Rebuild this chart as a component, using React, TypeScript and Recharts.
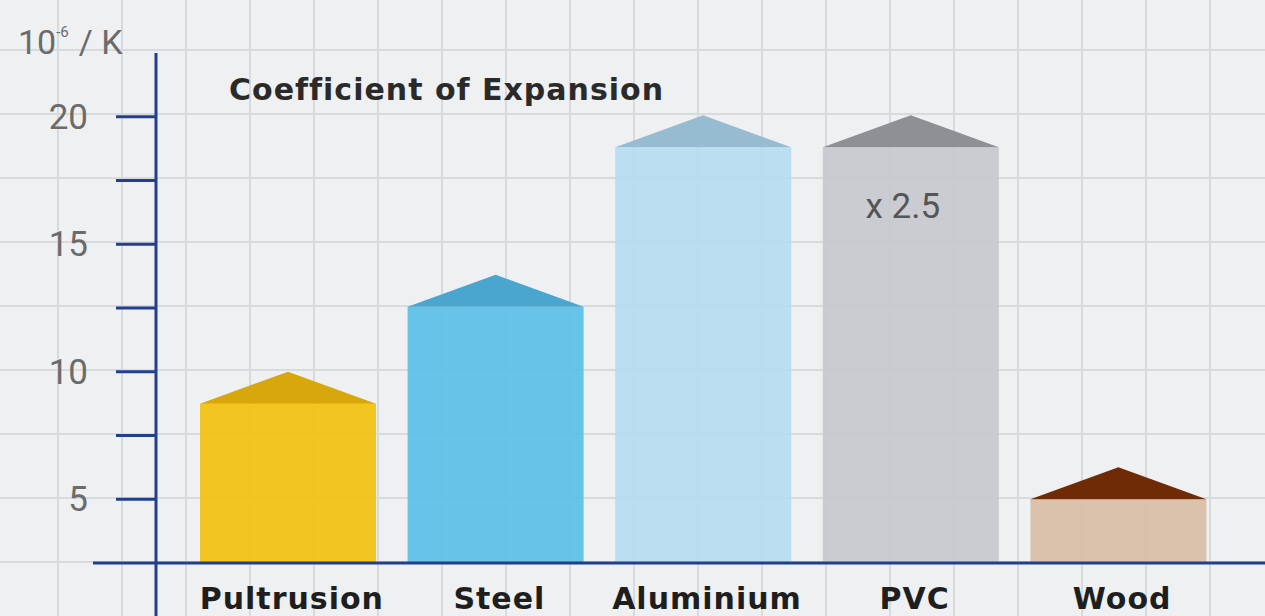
import React from "react";
import { BarChart, Bar, XAxis, YAxis, LabelList } from "recharts";

const categories = ["Pultrusion", "Steel", "Aluminium", "PVC", "Wood"];
const expansion = [8.75, 12.55, 18.8, 18.8, 5.0];
const notes = ["", "", "", "x 2.5", ""];
const bodyColors = ["#f3c00a", "#58bfe8", "#b6dbf1", "#c5c8cd", "#d8bca5"];
const roofColors = ["#d8a70b", "#4aa5cf", "#97bbd0", "#8d9094", "#6f2a06"];
const yTicks = [2.5, 5, 7.5, 10, 12.5, 15, 17.5, 20];

const data = categories.map((name, i) => ({
  name,
  value: expansion[i],
  note: notes[i],
  body: bodyColors[i],
  roof: roofColors[i],
}));

const AXIS = "#223f8e";

const HouseBar = (props: any) => {
  const { x, y, width, height, payload } = props;
  const peak = 32;
  return (
    <g>
      <rect x={x} y={y} width={width} height={height} fill={payload.body} fillOpacity={0.9} />
      <polygon
        points={`${x},${y} ${x + width / 2},${y - peak} ${x + width},${y}`}
        fill={payload.roof}
      />
    </g>
  );
};

const YTick = (props: any) => {
  const { x, y, payload } = props;
  const v = payload.value;
  if (v === 2.5) {
    // x axis runs past the y axis to the left, y axis runs below the x axis
    return (
      <g>
        <line x1={x - 63} y1={y} x2={x} y2={y} stroke={AXIS} strokeWidth={3} />
        <line x1={x} y1={y} x2={x} y2={y + 60} stroke={AXIS} strokeWidth={3} />
      </g>
    );
  }
  return (
    <g>
      <line x1={x - 40} y1={y} x2={x} y2={y} stroke={AXIS} strokeWidth={3} />
      {v % 5 === 0 && (
        <text x={x - 68} y={y + 12} textAnchor="end" fill="#6b6b6b" fontFamily="Roboto" fontSize={35}>
          {v}
        </text>
      )}
    </g>
  );
};

const XTick = (props: any) => {
  const { x, y, payload } = props;
  return (
    <text
      x={x + 4}
      y={y + 46}
      textAnchor="middle"
      fill="#1e1e1e"
      fontFamily="DejaVu Sans"
      fontWeight="bold"
      fontSize={30}
      letterSpacing={1}
    >
      {payload.value}
    </text>
  );
};

const UnitLabel = (props: any) => {
  const vb = props.viewBox || { x: 0, y: 53 };
  return (
    <text x={vb.x + 18} y={vb.y + 1} fill="#6b6b6b" fontFamily="Roboto" fontSize={34}>
      10
      <tspan dy={-17} fontSize={15}>-6</tspan>
      <tspan dy={17} dx={10}>/ K</tspan>
    </text>
  );
};

export default function App() {
  return (
    <div
      style={{
        position: "absolute",
        left: 0,
        top: 0,
        width: 1265,
        height: 616,
        overflow: "hidden",
        backgroundColor: "#eef0f1",
        backgroundImage:
          "linear-gradient(to right, #d8dbdd 2px, transparent 2px), linear-gradient(to bottom, #d8dbdd 2px, transparent 2px)",
        backgroundSize: "64px 64px",
        backgroundPosition: "57px 49px",
      }}
    >
      <div
        style={{
          position: "absolute",
          left: 229,
          top: 75,
          lineHeight: "30px",
          fontFamily: "DejaVu Sans",
          fontWeight: "bold",
          fontSize: 30,
          letterSpacing: 1,
          color: "#2a2a2a",
          whiteSpace: "nowrap",
          zIndex: 2,
        }}
      >
        Coefficient of Expansion
      </div>
      <BarChart
        width={1265}
        height={616}
        data={data}
        margin={{ top: 53, right: 0, bottom: 0, left: 0 }}
        barSize={176}
      >
        <XAxis
          dataKey="name"
          axisLine={{ stroke: AXIS, strokeWidth: 3 }}
          tickLine={false}
          tickSize={0}
          tickMargin={0}
          height={53}
          padding={{ left: 28, right: 43 }}
          tick={<XTick />}
          interval={0}
        />
        <YAxis
          width={156}
          domain={[2.5, 22.5]}
          ticks={yTicks}
          allowDataOverflow
          interval={0}
          axisLine={{ stroke: AXIS, strokeWidth: 3 }}
          tickLine={false}
          tickSize={0}
          tickMargin={0}
          tick={<YTick />}
          label={{ content: <UnitLabel /> }}
        />
        <Bar dataKey="value" shape={<HouseBar />} isAnimationActive={false}>
          <LabelList
            dataKey="note"
            content={(p: any) =>
              p.value ? (
                <text
                  x={p.x + p.width / 2 - 8}
                  y={p.y + 71}
                  textAnchor="middle"
                  fill="#555"
                  fontFamily="Roboto"
                  fontSize={35}
                >
                  {p.value}
                </text>
              ) : null
            }
          />
        </Bar>
      </BarChart>
    </div>
  );
}
